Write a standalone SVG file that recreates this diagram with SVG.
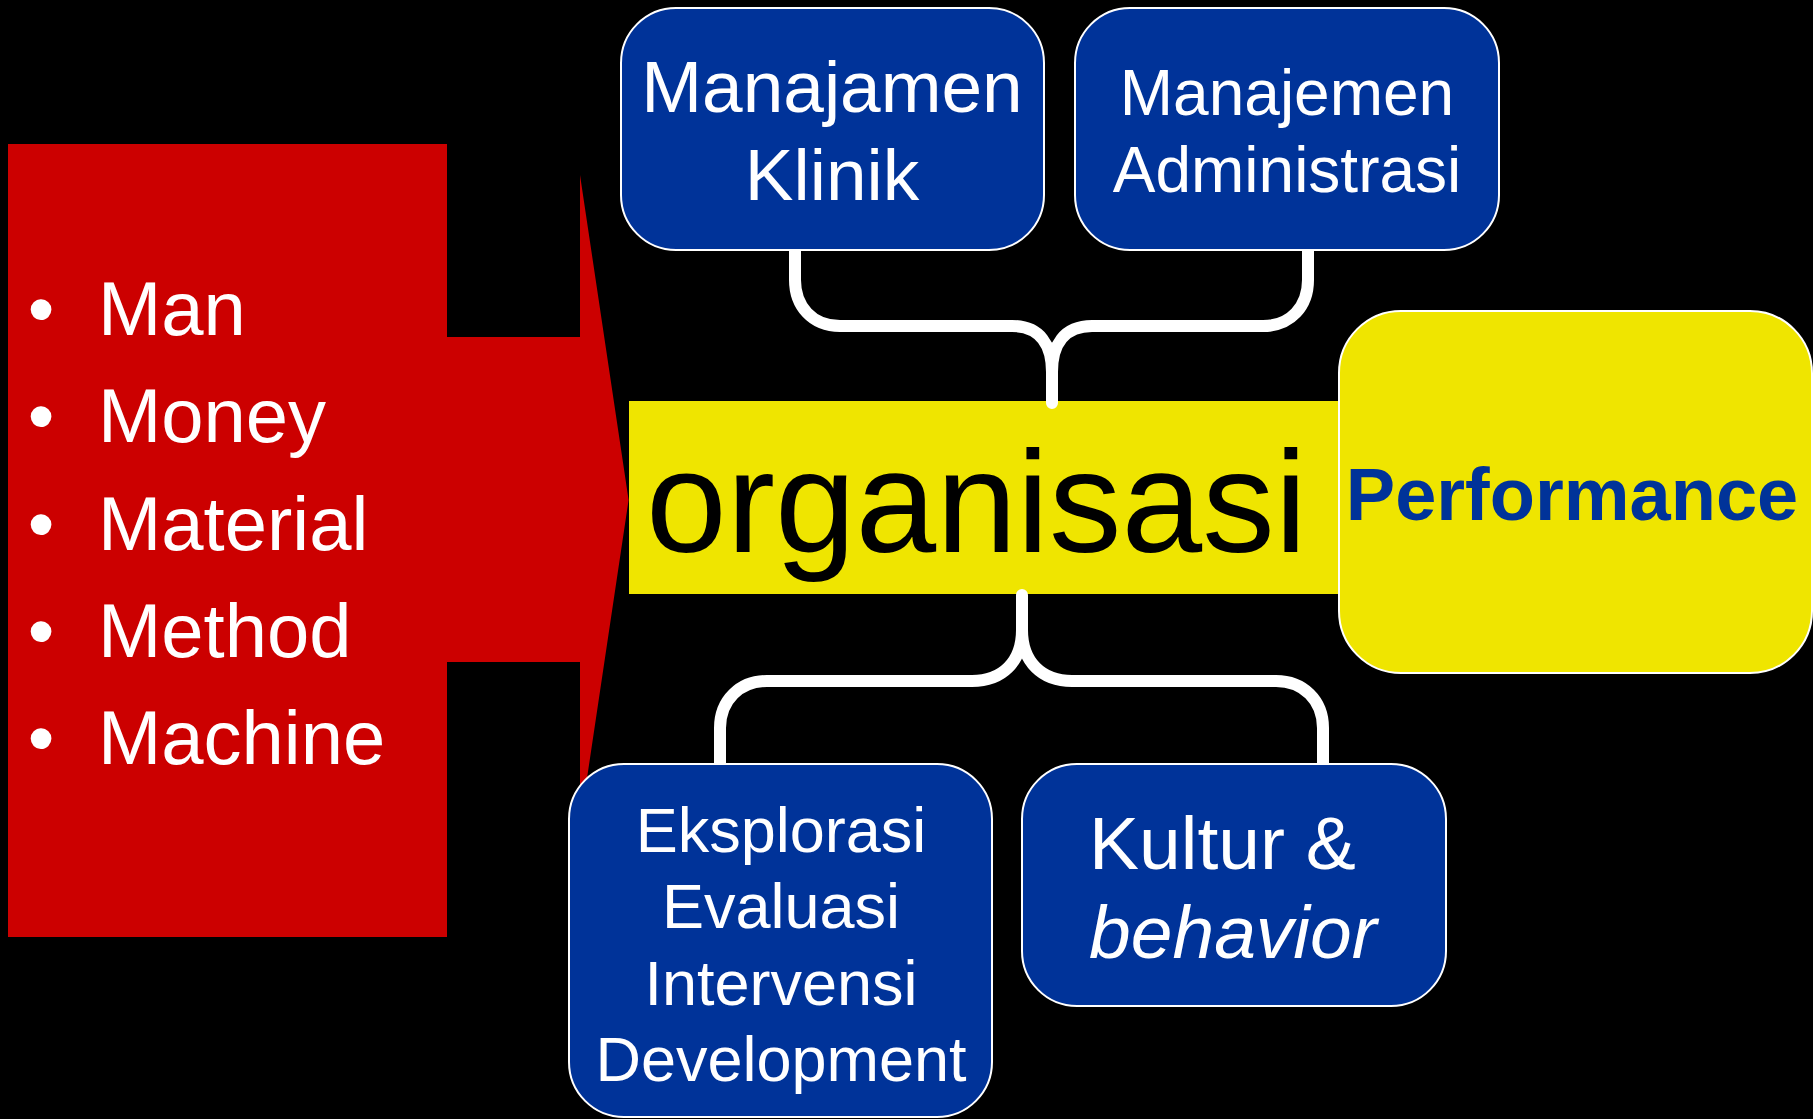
<svg xmlns="http://www.w3.org/2000/svg" width="1813" height="1119" viewBox="0 0 1813 1119">
<style>
.blue{fill:#003399;stroke:#ffffff;stroke-width:2}
.yel{fill:#EFE500}
.wt{fill:#ffffff;font-family:"Liberation Sans",Arial,sans-serif}
.bl{fill:#ffffff;font-family:"Liberation Sans",Arial,sans-serif;font-size:76px}
.brace{fill:none;stroke:#ffffff;stroke-width:12;stroke-linecap:round;stroke-linejoin:round}
</style>
<rect x="0" y="0" width="1813" height="1119" fill="#000000"/>
<g id="inputs">
<path d="M 8 144 L 447 144 L 447 337 L 580 337 L 580 175 L 628.6 500 L 580 825 L 580 662 L 447 662 L 447 937 L 8 937 Z" fill="#CC0000"/>
<text class="bl" x="41" y="335" text-anchor="middle">•</text><text class="bl" x="98" y="335">Man</text>
<text class="bl" x="41" y="442" text-anchor="middle">•</text><text class="bl" x="98" y="442">Money</text>
<text class="bl" x="41" y="550" text-anchor="middle">•</text><text class="bl" x="98" y="550">Material</text>
<text class="bl" x="41" y="657" text-anchor="middle">•</text><text class="bl" x="98" y="657">Method</text>
<text class="bl" x="41" y="764" text-anchor="middle">•</text><text class="bl" x="98" y="764">Machine</text>
</g>
<g id="organisasi">
<rect class="yel" x="629" y="401" width="711" height="193"/>
<text x="646" y="552" font-family="Liberation Sans, Arial, sans-serif" font-size="145" fill="#000000">organisasi</text>
</g>
<g id="connectors">
<path class="brace" d="M 795 250 L 795 280 C 795 306 812 326 840 326 L 1012 326 C 1040 326 1052 345 1052 372 L 1052 403"/>
<path class="brace" d="M 1308 250 L 1308 280 C 1308 306 1291 326 1263 326 L 1092 326 C 1064 326 1052 345 1052 372"/>
<path class="brace" d="M 1022 595 L 1022 630 C 1022 662 1002 681 972 681 L 767 681 C 740 681 720 700 720 728 L 720 764"/>
<path class="brace" d="M 1022 630 C 1022 662 1042 681 1072 681 L 1276 681 C 1303 681 1323 700 1323 728 L 1323 764"/>
</g>
<g id="performance">
<rect x="1339" y="311" width="473" height="362" rx="62" ry="62" fill="#EFE500" stroke="#ffffff" stroke-width="2"/>
<text x="1572" y="520" text-anchor="middle" font-family="Liberation Sans, Arial, sans-serif" font-size="74" font-weight="bold" fill="#003399">Performance</text>
</g>
<g id="manajamen-klinik">
<rect class="blue" x="621" y="8" width="423" height="242" rx="55" ry="55"/>
<text class="wt" font-size="73" text-anchor="middle"><tspan x="832" y="112">Manajamen</tspan><tspan x="832" y="200">Klinik</tspan></text>
</g>
<g id="manajemen-administrasi">
<rect class="blue" x="1075" y="8" width="424" height="242" rx="55" ry="55"/>
<text class="wt" font-size="64" text-anchor="middle"><tspan x="1287" y="115">Manajemen</tspan><tspan x="1287" y="192">Administrasi</tspan></text>
</g>
<g id="eksplorasi">
<rect class="blue" x="569" y="764" width="423" height="353" rx="55" ry="55"/>
<text class="wt" font-size="63" text-anchor="middle"><tspan x="781" y="852">Eksplorasi</tspan><tspan x="781" y="928">Evaluasi</tspan><tspan x="781" y="1005">Intervensi</tspan><tspan x="781" y="1081">Development</tspan></text>
</g>
<g id="kultur">
<rect class="blue" x="1022" y="764" width="424" height="242" rx="55" ry="55"/>
<text class="wt" font-size="75"><tspan x="1089" y="869">Kultur &amp;</tspan><tspan x="1089" y="958" font-style="italic">behavior</tspan></text>
</g>
</svg>
